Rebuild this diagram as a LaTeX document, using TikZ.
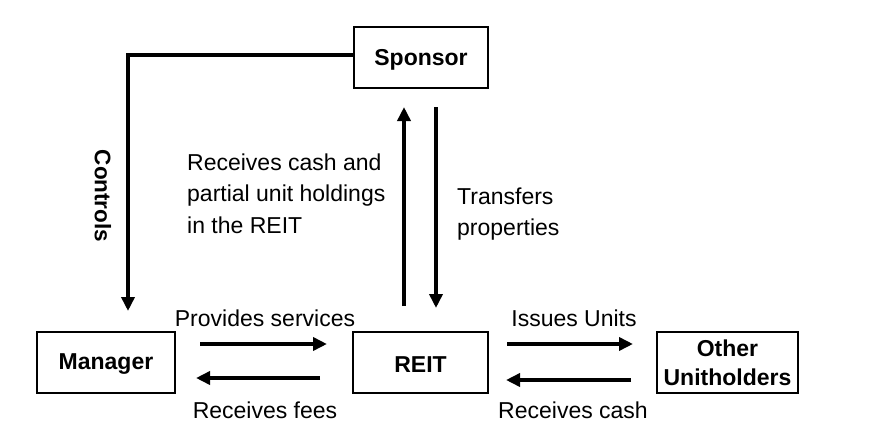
\documentclass[tikz,border=0pt]{standalone}
\usepackage{fontspec}
\setmainfont{Liberation Sans}
\usetikzlibrary{arrows.meta}
\newcommand{\lowerit}[1]{\raisebox{-2pt}[\height][\depth]{#1}}
\begin{document}
\begin{tikzpicture}[x=1pt,y=-1pt,
  box/.style={draw, line width=2.5pt, font=\fontsize{23}{31}\selectfont\bfseries, align=center, inner sep=0pt},
  lab/.style={font=\fontsize{23}{31.5}\selectfont, inner sep=0pt},
  conn/.style={line width=3.5pt, -{Triangle[length=14pt,width=13pt]}}]
\useasboundingbox (0,0) rectangle (871,442);
\node[box, minimum width=134pt, minimum height=61pt] (sp) at (421,57.5) {\lowerit{Sponsor}};
\node[box, minimum width=138pt, minimum height=61pt] (mg) at (106,362.5) {\lowerit{Manager}};
\node[box, minimum width=135pt, minimum height=61pt] (re) at (420.5,362.5) {\lowerit{REIT}};
\node[box, minimum width=141pt, minimum height=61pt] (ou) at (727.5,362.5) {Other\\[-2pt]Unitholders};
\coordinate (c1) at (128,55);
\coordinate (c2) at (128,311);
\draw[conn] (sp.west |- c1) -- (c1) -- (c2);
\node[lab, font=\fontsize{22.5}{30}\selectfont\bfseries, rotate=-90] (ctl) at (103,196) {Controls};
\coordinate (u1) at (404,306); \coordinate (u2) at (404,107);
\draw[conn] (u1) -- (u2);
\coordinate (d1) at (436,107); \coordinate (d2) at (436,308);
\draw[conn] (d1) -- (d2);
\node[lab, align=left, anchor=north west] (rc) at (187,153.5) {Receives cash and\\partial unit holdings\\in the REIT};
\node[lab, align=left, anchor=north west] (tp) at (457,187.5) {Transfers\\properties};
\coordinate (a1) at (200,344); \coordinate (a2) at (327,344);
\draw[conn] (a1) -- (a2);
\coordinate (b1) at (320,378); \coordinate (b2) at (196,378);
\draw[conn] (b1) -- (b2);
\coordinate (e1) at (507,344); \coordinate (e2) at (633,344);
\draw[conn] (e1) -- (e2);
\coordinate (f1) at (631,380); \coordinate (f2) at (506,380);
\draw[conn] (f1) -- (f2);
\node[lab] (ps) at (265,318) {Provides services};
\node[lab] (rf) at (265,410) {Receives fees};
\node[lab] (iu) at (574,318) {Issues Units};
\node[lab] (rcs) at (573,410) {Receives cash};
\end{tikzpicture}
\end{document}
